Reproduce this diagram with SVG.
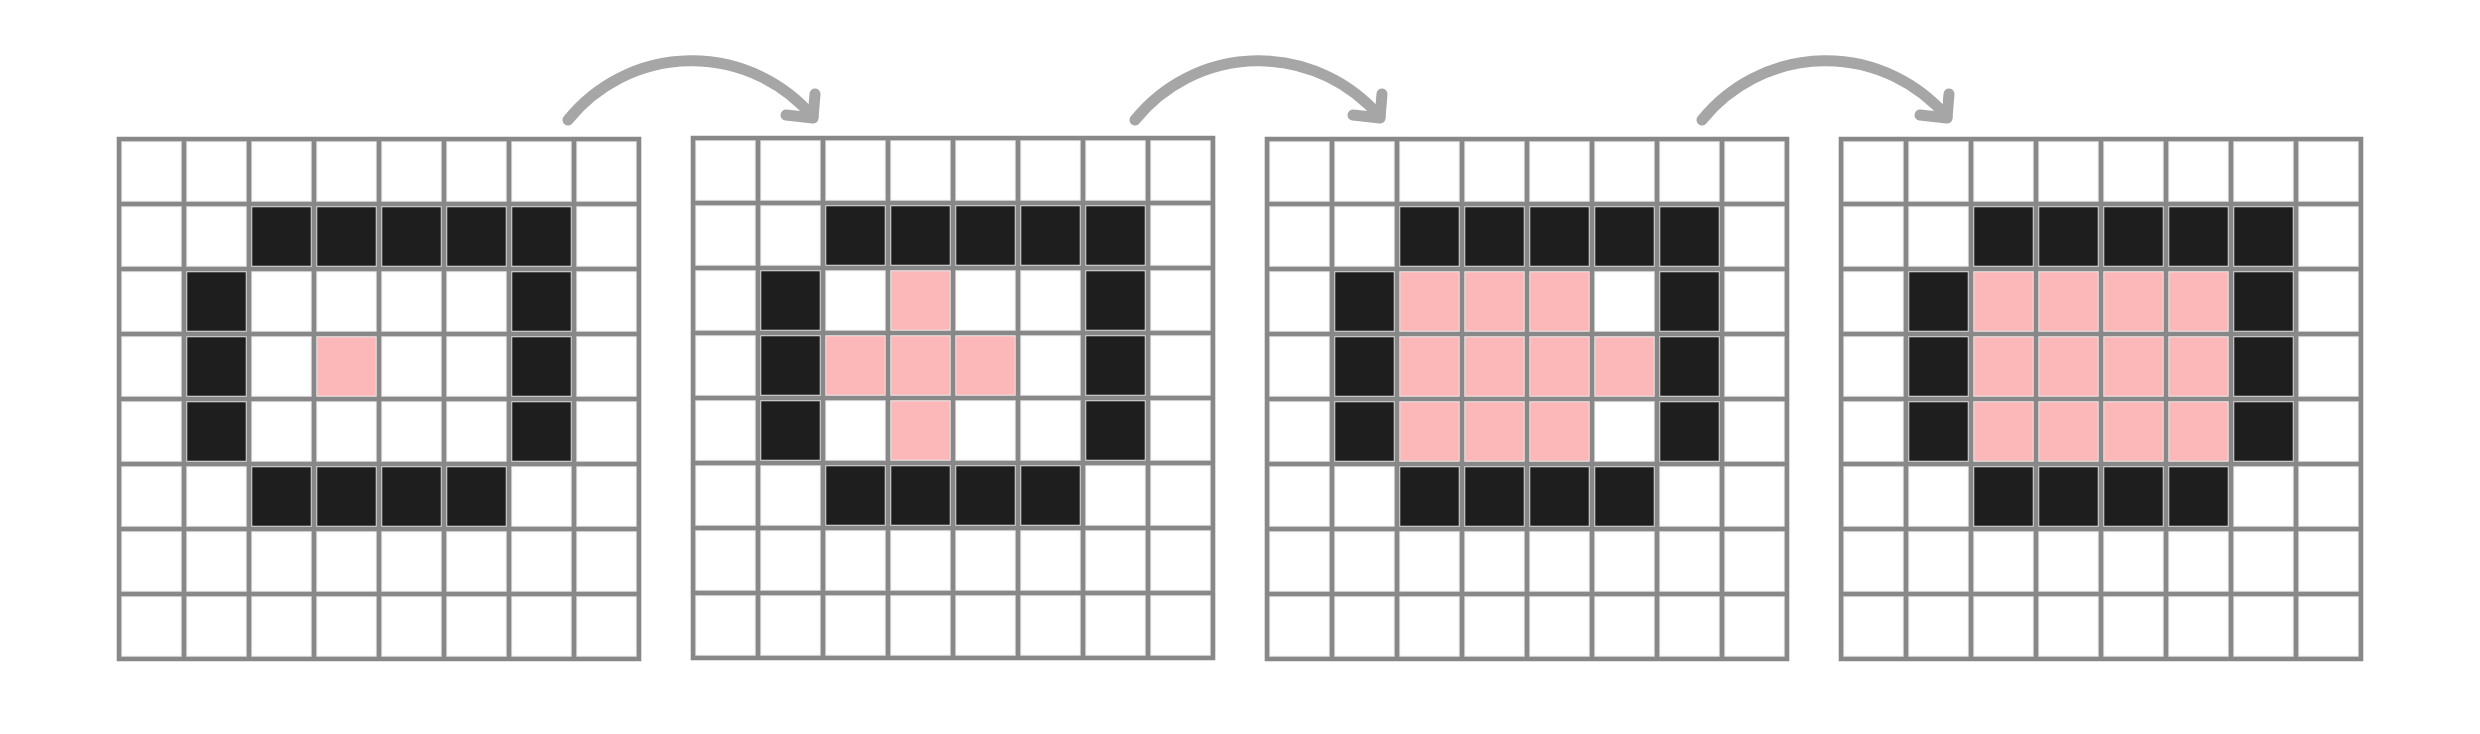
<svg xmlns="http://www.w3.org/2000/svg" xmlns:xlink="http://www.w3.org/1999/xlink" width="2480" height="734" viewBox="0 0 2480 734">
<style>
.k{fill:#1e1e1e;stroke:#e8e8e8;stroke-width:1}
.p{fill:#fcb7b8;stroke:#ececec;stroke-width:1}
.gl{fill:none;stroke:#888888;stroke-width:4.6;stroke-linecap:square}
.arc{fill:none;stroke:#a6a6a6;stroke-width:11;stroke-linecap:round;stroke-linejoin:round}
</style>
<defs>
<pattern id="cellpat" patternUnits="userSpaceOnUse" x="0" y="0" width="65" height="65">
<rect x="0" y="0" width="65" height="65" fill="#e4e4e4"/>
<rect x="3.2" y="3.2" width="58.6" height="58.6" fill="#ffffff"/>
</pattern>
<path id="lines" class="gl" d="M0 0H520V520H0Z M65 0V520 M130 0V520 M195 0V520 M260 0V520 M325 0V520 M390 0V520 M455 0V520 M0 65H520 M0 130H520 M0 195H520 M0 260H520 M0 325H520 M0 390H520 M0 455H520"/>
<g id="walls">
<rect class="k" x="132.75" y="67.75" width="59.5" height="59.5"/>
<rect class="k" x="197.75" y="67.75" width="59.5" height="59.5"/>
<rect class="k" x="262.75" y="67.75" width="59.5" height="59.5"/>
<rect class="k" x="327.75" y="67.75" width="59.5" height="59.5"/>
<rect class="k" x="392.75" y="67.75" width="59.5" height="59.5"/>
<rect class="k" x="67.75" y="132.75" width="59.5" height="59.5"/>
<rect class="k" x="392.75" y="132.75" width="59.5" height="59.5"/>
<rect class="k" x="67.75" y="197.75" width="59.5" height="59.5"/>
<rect class="k" x="392.75" y="197.75" width="59.5" height="59.5"/>
<rect class="k" x="67.75" y="262.75" width="59.5" height="59.5"/>
<rect class="k" x="392.75" y="262.75" width="59.5" height="59.5"/>
<rect class="k" x="132.75" y="327.75" width="59.5" height="59.5"/>
<rect class="k" x="197.75" y="327.75" width="59.5" height="59.5"/>
<rect class="k" x="262.75" y="327.75" width="59.5" height="59.5"/>
<rect class="k" x="327.75" y="327.75" width="59.5" height="59.5"/>
</g>
<g id="arrow">
<path class="arc" d="M0 0 A159 159 0 0 1 245 -3"/>
<path class="arc" d="M247 -26 L245 -2 L218 -5"/>
</g>
</defs>

<g id="grid1" transform="translate(119,139)">
<rect x="0" y="0" width="520" height="520" fill="url(#cellpat)"/>
<use xlink:href="#walls"/>
<rect class="p" x="197.75" y="197.75" width="59.5" height="59.5"/>
<use xlink:href="#lines"/>
</g>

<g id="grid2" transform="translate(693,138)">
<rect x="0" y="0" width="520" height="520" fill="url(#cellpat)"/>
<use xlink:href="#walls"/>
<rect class="p" x="197.75" y="132.75" width="59.5" height="59.5"/>
<rect class="p" x="132.75" y="197.75" width="59.5" height="59.5"/>
<rect class="p" x="197.75" y="197.75" width="59.5" height="59.5"/>
<rect class="p" x="262.75" y="197.75" width="59.5" height="59.5"/>
<rect class="p" x="197.75" y="262.75" width="59.5" height="59.5"/>
<use xlink:href="#lines"/>
</g>

<g id="grid3" transform="translate(1267,139)">
<rect x="0" y="0" width="520" height="520" fill="url(#cellpat)"/>
<use xlink:href="#walls"/>
<rect class="p" x="132.75" y="132.75" width="59.5" height="59.5"/>
<rect class="p" x="197.75" y="132.75" width="59.5" height="59.5"/>
<rect class="p" x="262.75" y="132.75" width="59.5" height="59.5"/>
<rect class="p" x="132.75" y="197.75" width="59.5" height="59.5"/>
<rect class="p" x="197.75" y="197.75" width="59.5" height="59.5"/>
<rect class="p" x="262.75" y="197.75" width="59.5" height="59.5"/>
<rect class="p" x="327.75" y="197.75" width="59.5" height="59.5"/>
<rect class="p" x="132.75" y="262.75" width="59.5" height="59.5"/>
<rect class="p" x="197.75" y="262.75" width="59.5" height="59.5"/>
<rect class="p" x="262.75" y="262.75" width="59.5" height="59.5"/>
<use xlink:href="#lines"/>
</g>

<g id="grid4" transform="translate(1841,139)">
<rect x="0" y="0" width="520" height="520" fill="url(#cellpat)"/>
<use xlink:href="#walls"/>
<rect class="p" x="132.75" y="132.75" width="59.5" height="59.5"/>
<rect class="p" x="197.75" y="132.75" width="59.5" height="59.5"/>
<rect class="p" x="262.75" y="132.75" width="59.5" height="59.5"/>
<rect class="p" x="327.75" y="132.75" width="59.5" height="59.5"/>
<rect class="p" x="132.75" y="197.75" width="59.5" height="59.5"/>
<rect class="p" x="197.75" y="197.75" width="59.5" height="59.5"/>
<rect class="p" x="262.75" y="197.75" width="59.5" height="59.5"/>
<rect class="p" x="327.75" y="197.75" width="59.5" height="59.5"/>
<rect class="p" x="132.75" y="262.75" width="59.5" height="59.5"/>
<rect class="p" x="197.75" y="262.75" width="59.5" height="59.5"/>
<rect class="p" x="262.75" y="262.75" width="59.5" height="59.5"/>
<rect class="p" x="327.75" y="262.75" width="59.5" height="59.5"/>
<use xlink:href="#lines"/>
</g>

<g id="connectors">
<use xlink:href="#arrow" transform="translate(568,120)"/>
<use xlink:href="#arrow" transform="translate(1135,120)"/>
<use xlink:href="#arrow" transform="translate(1702,120)"/>
</g>
</svg>
